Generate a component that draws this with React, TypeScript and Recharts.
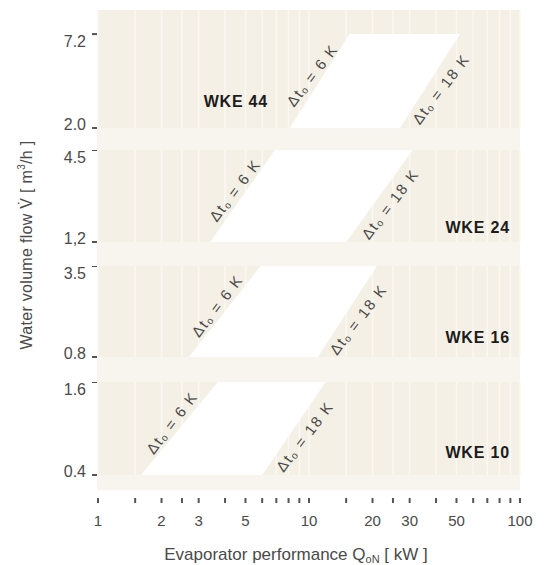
import React from "react";
import { ComposedChart, Area, XAxis, YAxis, CartesianGrid, ReferenceDot } from "recharts";

// one entry per unit, top panel first
const unitNames = ["WKE 44", "WKE 24", "WKE 16", "WKE 10"];
const flowMax = [7.2, 4.5, 3.5, 1.6];
const flowMin = [2.0, 1.2, 0.8, 0.4];
const flowMaxLabels = ["7.2", "4.5", "3.5", "1.6"];
const flowMinLabels = ["2.0", "1,2", "0.8", "0.4"];

// evaporator performance (kW) where the Δt lines meet the min / max flow
const q6AtMin = [8.1, 3.4, 2.7, 1.6];
const q6AtMax = [15.6, 6.9, 5.9, 3.7];
const q18AtMin = [27, 15, 11, 6];
const q18AtMax = [52, 31, 21, 12];

const xTicks = [1, 1.5, 2, 2.5, 3, 4, 5, 6, 7, 8, 9, 10, 15, 20, 25, 30, 40, 50, 60, 70, 80, 90, 100];
const xLabelled = [1, 2, 3, 5, 10, 20, 30, 50, 100];

// layout
const W = 546;
const PLOT_LEFT = 98;
const PLOT_RIGHT = 26;
const panelTop = [10, 150, 266, 382];
const panelHeight = [118, 92, 91, 93];
const domainTop = [10, 4.5, 3.5, 1.6]; // the top panel runs on above its 7.2 tick
const nameAt = [
  [4.5, 2.66],
  [63, 1.37],
  [63, 1.0],
  [63, 0.515],
];

const FONT = '"Liberation Sans", Arial, Helvetica, sans-serif';
const PANEL = "#f4f0e5";
const GAP = "#f7f5ee";
const GRID = "#faf8f2";
const TEXT = "#4a4a4a";

function bandData(i: number) {
  const lo = flowMin[i];
  const hi = flowMax[i];
  return [
    { q: q6AtMin[i], band: [lo, lo] },
    { q: q6AtMax[i], band: [lo, hi] },
    { q: q18AtMin[i], band: [lo, hi] },
    { q: q18AtMax[i], band: [hi, hi] },
  ];
}

function edgeLabel(dt: string, side: number) {
  return (props: any) => {
    const { cx, cy } = props;
    const off = side < 0 ? 10 : 13;
    const tx = cx + side * 0.8 * off;
    const ty = cy + side * 0.6 * off;
    return (
      <text
        x={tx}
        y={ty}
        transform={`rotate(-53 ${tx} ${ty})`}
        textAnchor="middle"
        dominantBaseline="central"
        fontFamily={FONT}
        fontSize={15}
        letterSpacing={1.6}
        fill={TEXT}
      >
        Δt
        <tspan dy={3} fontSize={10}>
          o
        </tspan>
        <tspan dy={-3}>{` = ${dt} K`}</tspan>
      </text>
    );
  };
}

function nameLabel(name: string) {
  return (props: any) => (
    <text
      x={props.cx}
      y={props.cy}
      textAnchor="middle"
      fontFamily={FONT}
      fontSize={16}
      fontWeight="bold"
      letterSpacing={0.8}
      fill="#1c1c1c"
    >
      {name}
    </text>
  );
}

function yTick(i: number) {
  return (props: any) => {
    const { x, y, payload } = props;
    const isTop = payload.value === flowMax[i];
    const label = isTop ? flowMaxLabels[i] : flowMinLabels[i];
    return (
      <g>
        <line x1={x - 6} x2={x - 1} y1={y} y2={y} stroke="#555" strokeWidth={2} />
        <text x={x - 12} y={isTop ? y + 13 : y + 2} textAnchor="end" fontFamily={FONT} fontSize={16} fill={TEXT}>
          {label}
        </text>
      </g>
    );
  };
}

const XTick = (props: any) => {
  const { x, y, payload } = props;
  return (
    <g>
      <line x1={x} x2={x} y1={y + 23} y2={y + 28} stroke="#555" strokeWidth={2} />
      {xLabelled.includes(payload.value) && (
        <text x={x} y={y + 51} textAnchor="middle" fontFamily={FONT} fontSize={15} fill={TEXT}>
          {payload.value}
        </text>
      )}
    </g>
  );
};

const XTitle = (props: any) => {
  const { x, y, width } = props.viewBox;
  return (
    <text x={x + width / 2 - 13} y={y + 85} textAnchor="middle" fontFamily={FONT} fontSize={17} fill={TEXT}>
      Evaporator performance Q
      <tspan dy={3} fontSize={11}>
        oN
      </tspan>
      <tspan dy={-3}> [ kW ]</tspan>
    </text>
  );
};

function Panel({ i }: { i: number }) {
  const last = i === unitNames.length - 1;
  const xAxisHeight = last ? 90 : 0;
  const below = last ? 0 : 8; // room for the lower tick label
  const lo = flowMin[i];
  const hi = flowMax[i];
  return (
    <div style={{ position: "absolute", left: 0, top: panelTop[i] }}>
      <ComposedChart
        width={W}
        height={panelHeight[i] + xAxisHeight + below}
        data={bandData(i)}
        margin={{ top: 0, right: PLOT_RIGHT, bottom: below, left: 0 }}
      >
        <CartesianGrid horizontal={false} fill={PANEL} fillOpacity={1} stroke={GRID} strokeWidth={1.5} />
        <XAxis
          dataKey="q"
          type="number"
          scale="log"
          domain={[1, 100]}
          allowDataOverflow
          ticks={xTicks}
          interval={0}
          hide={!last}
          height={xAxisHeight}
          axisLine={false}
          tickLine={false}
          tickSize={0}
          tickMargin={0}
          tick={<XTick />}
          label={last ? <XTitle /> : undefined}
        />
        <YAxis
          type="number"
          scale="log"
          domain={[lo, domainTop[i]]}
          allowDataOverflow
          ticks={[lo, hi]}
          interval={0}
          width={PLOT_LEFT}
          axisLine={false}
          tickLine={false}
          tickSize={0}
          tickMargin={0}
          tick={yTick(i)}
        />
        <Area
          dataKey="band"
          type="linear"
          fill="#ffffff"
          fillOpacity={1}
          stroke="none"
          isAnimationActive={false}
        />
        <ReferenceDot
          x={Math.sqrt(q6AtMin[i] * q6AtMax[i])}
          y={Math.sqrt(lo * hi)}
          shape={edgeLabel("6", -1)}
        />
        <ReferenceDot
          x={Math.sqrt(q18AtMin[i] * q18AtMax[i])}
          y={Math.sqrt(lo * hi)}
          shape={edgeLabel("18", 1)}
        />
        <ReferenceDot x={nameAt[i][0]} y={nameAt[i][1]} shape={nameLabel(unitNames[i])} />
      </ComposedChart>
    </div>
  );
}

export default function App() {
  return (
    <div style={{ position: "absolute", left: 0, top: 0, width: W, height: 565, background: "#fff" }}>
      <div
        style={{
          position: "absolute",
          left: PLOT_LEFT - 1,
          top: 10,
          width: W - PLOT_LEFT - PLOT_RIGHT + 1,
          height: 480,
          background: GAP,
        }}
      />
      {unitNames.map((_, i) => (
        <Panel key={i} i={i} />
      ))}
      <svg style={{ position: "absolute", left: 0, top: 0, pointerEvents: "none" }} width={60} height={565}>
        <text
          x={26}
          y={245}
          transform="rotate(-90 26 245)"
          textAnchor="middle"
          dominantBaseline="central"
          fontFamily={FONT}
          fontSize={16}
          letterSpacing={0.3}
          fill={TEXT}
        >
          Water volume flow V̇ [ m
          <tspan dy={-5} fontSize={10}>
            3
          </tspan>
          <tspan dy={5}>/h ]</tspan>
        </text>
      </svg>
    </div>
  );
}
